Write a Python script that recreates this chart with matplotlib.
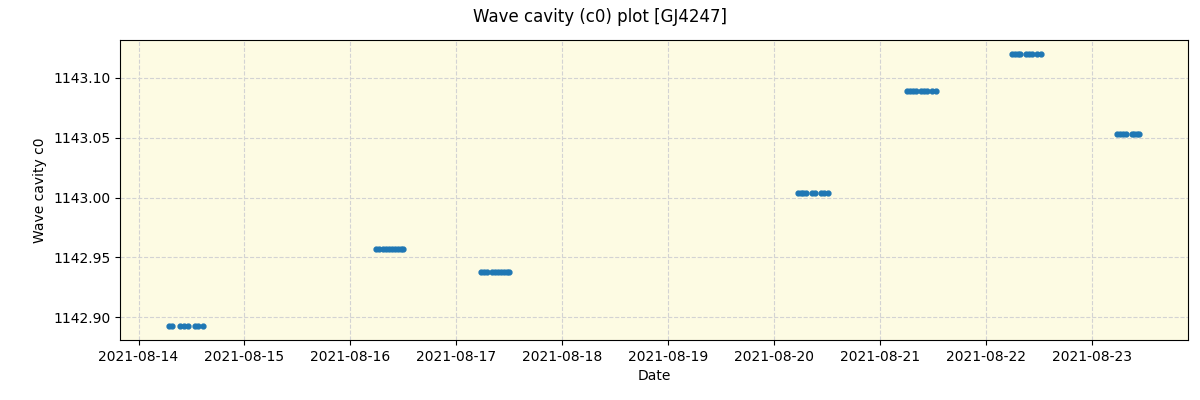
import pandas as pd
import numpy as np
import matplotlib
matplotlib.use("Agg")
import matplotlib.pyplot as plt

# observation times, grouped by night
night_1 = ["2021-08-14 06:48", "2021-08-14 07:30", "2021-08-14 09:18", "2021-08-14 10:24",
           "2021-08-14 11:06", "2021-08-14 12:42", "2021-08-14 13:24", "2021-08-14 14:30"]
night_2 = ["2021-08-16 05:53", "2021-08-16 06:35", "2021-08-16 07:17", "2021-08-16 07:59",
           "2021-08-16 08:41", "2021-08-16 09:23", "2021-08-16 10:05", "2021-08-16 10:47",
           "2021-08-16 11:29", "2021-08-16 12:00"]
night_3 = ["2021-08-17 05:40", "2021-08-17 06:20", "2021-08-17 07:00", "2021-08-17 08:10",
           "2021-08-17 08:50", "2021-08-17 09:30", "2021-08-17 10:10", "2021-08-17 10:50",
           "2021-08-17 11:30", "2021-08-17 12:00"]
night_4 = ["2021-08-20 05:25", "2021-08-20 06:00", "2021-08-20 06:40", "2021-08-20 07:20",
           "2021-08-20 08:40", "2021-08-20 09:20", "2021-08-20 10:40", "2021-08-20 11:20",
           "2021-08-20 12:15"]
night_5 = ["2021-08-21 06:07", "2021-08-21 06:50", "2021-08-21 07:30", "2021-08-21 08:10",
           "2021-08-21 09:20", "2021-08-21 10:00", "2021-08-21 10:40", "2021-08-21 11:50",
           "2021-08-21 12:43"]
night_6 = ["2021-08-22 05:53", "2021-08-22 06:30", "2021-08-22 07:10", "2021-08-22 07:50",
           "2021-08-22 09:10", "2021-08-22 09:50", "2021-08-22 10:30", "2021-08-22 11:40",
           "2021-08-22 12:29"]
night_7 = ["2021-08-23 05:40", "2021-08-23 06:20", "2021-08-23 07:00", "2021-08-23 07:40",
           "2021-08-23 09:00", "2021-08-23 09:40", "2021-08-23 10:20", "2021-08-23 10:48"]

# wave cavity c0 per night
c0_values = [1142.8925, 1142.957, 1142.9377, 1143.0038, 1143.0891, 1143.1201, 1143.0531]

nights = [night_1, night_2, night_3, night_4, night_5, night_6, night_7]

dates = []
c0 = []
for times, val in zip(nights, c0_values):
    dates += list(pd.to_datetime(times))
    c0 += [val] * len(times)

fig, ax = plt.subplots(figsize=(12, 4), dpi=100)
ax.set_facecolor("#fdfbe3")
ax.plot(dates, c0, "o", color="tab:blue", markersize=3.5, zorder=3)
ax.grid(True, linestyle="--", color="lightgray", zorder=0)
ax.set_axisbelow(True)
ax.set_xlabel("Date")
ax.set_ylabel("Wave cavity c0")
fig.suptitle("Wave cavity (c0) plot [GJ4247]")
ax.ticklabel_format(axis="y", useOffset=False)
ax.yaxis.set_major_formatter(matplotlib.ticker.FormatStrFormatter("%.2f"))

plt.subplots_adjust(left=0.1, right=0.99, top=0.9, bottom=0.15)
plt.savefig("out.png")
